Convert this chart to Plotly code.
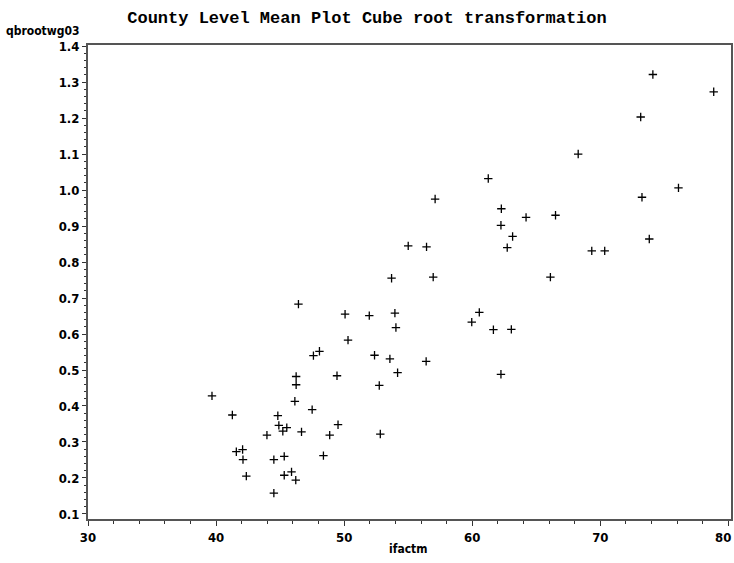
import plotly.graph_objects as go

ifactm = [74.1, 78.85, 73.15, 68.27, 61.25, 57.1, 73.25, 76.1, 62.27, 64.2,
          66.5, 62.24, 63.15, 55.0, 56.43, 62.73, 73.82, 69.33, 70.34, 56.95,
          66.1, 53.7, 60.55, 59.96, 61.65, 63.05, 56.4, 62.24, 46.43, 50.07,
          51.96, 53.96, 54.04, 50.3, 47.6, 48.07, 52.37, 53.57, 54.17, 46.25,
          46.25, 49.44, 52.74, 39.68, 46.15, 47.5, 41.27, 44.82, 44.9, 45.52,
          45.21, 46.67, 43.97, 48.87, 49.52, 52.82, 41.58, 42.07, 42.1, 44.51,
          45.32, 48.38, 42.36, 45.32, 45.89, 46.22, 44.51]
qbroot = [1.321, 1.273, 1.203, 1.100, 1.032, 0.975, 0.980, 1.006, 0.948, 0.924,
          0.930, 0.902, 0.871, 0.845, 0.842, 0.840, 0.864, 0.831, 0.831, 0.758,
          0.758, 0.755, 0.660, 0.633, 0.612, 0.613, 0.524, 0.488, 0.683, 0.655,
          0.651, 0.658, 0.618, 0.583, 0.540, 0.552, 0.541, 0.531, 0.4925, 0.482,
          0.459, 0.484, 0.457, 0.428, 0.413, 0.390, 0.375, 0.373, 0.346, 0.340,
          0.330, 0.328, 0.319, 0.319, 0.348, 0.322, 0.273, 0.279, 0.251, 0.251,
          0.260, 0.262, 0.205, 0.2075, 0.217, 0.194, 0.158]

x_ticks = [30, 40, 50, 60, 70, 80]
y_ticks = [0.1, 0.2, 0.3, 0.4, 0.5, 0.6, 0.7, 0.8, 0.9, 1.0, 1.1, 1.2, 1.3, 1.4]

title = "County Level Mean Plot Cube root transformation"
x_label = "ifactm"
y_label = "qbrootwg03"

narrow = "Liberation Sans Narrow, DejaVu Sans Condensed, Arial Narrow, sans-serif"
tick_font = dict(family=narrow, size=13, color="black", weight="bold")

W, H = 734, 563
L, R, T, B = 88, 3, 45, 44
plot_w = W - L - R
plot_h = H - T - B

# last x tick label is drawn as an annotation so it stays inside the page
x_ticktext = [str(v) for v in x_ticks[:-1]] + [""]

fig = go.Figure()
fig.add_trace(go.Scatter(
    x=ifactm, y=qbroot, mode="markers",
    marker=dict(symbol="cross-thin", size=6, line=dict(color="black", width=1.3), color="black"),
    showlegend=False, hoverinfo="x+y"))

fig.update_layout(
    width=W, height=H,
    margin=dict(l=L, r=R, t=T, b=B),
    paper_bgcolor="white", plot_bgcolor="white",
    title=dict(text=title, x=0.5, xanchor="center", y=1 - 17 / H, yanchor="middle",
               font=dict(family="Liberation Mono, Courier New, monospace", size=17,
                         color="black", weight="bold")),
    annotations=[
        dict(text=y_label, xref="paper", yref="paper", x=-(L - 4) / plot_w, y=1.0,
             xanchor="left", yanchor="bottom", showarrow=False, yshift=5,
             font=dict(family=narrow, size=12, color="black", weight="bold")),
        dict(text=x_label, xref="paper", yref="paper", x=(408 - L) / plot_w, y=0,
             xanchor="center", yanchor="middle", showarrow=False, yshift=-30,
             font=dict(family=narrow, size=12, color="black", weight="bold")),
        dict(text=str(x_ticks[-1]), xref="paper", yref="paper", x=1, y=0,
             xanchor="right", yanchor="middle", showarrow=False, xshift=R - 1, yshift=-18,
             font=tick_font),
    ],
)
fig.update_xaxes(
    range=[30, 80.2], tickvals=x_ticks, ticktext=x_ticktext,
    automargin=False,
    showgrid=False, zeroline=False, showline=True, linecolor="#555", linewidth=2,
    mirror=True, ticks="outside", ticklen=5, tickcolor="#333", tickfont=tick_font,
    minor=dict(dtick=2, ticks="outside", ticklen=3, tickcolor="#333", showgrid=False),
)
fig.update_yaxes(
    range=[0.086, 1.403], tickvals=y_ticks, ticktext=[f"{v:.1f}" for v in y_ticks],
    automargin=False, ticklabeloverflow="allow",
    showgrid=False, zeroline=False, showline=True, linecolor="#555", linewidth=2,
    mirror=True, ticks="outside", ticklen=4, tickcolor="#333", tickfont=tick_font,
    minor=dict(dtick=0.02, ticks="outside", ticklen=2, tickcolor="#333", showgrid=False),
)

fig.write_html("out.html", config={"displayModeBar": False},
               post_script="document.body.style.margin='0';document.body.style.padding='0';")
